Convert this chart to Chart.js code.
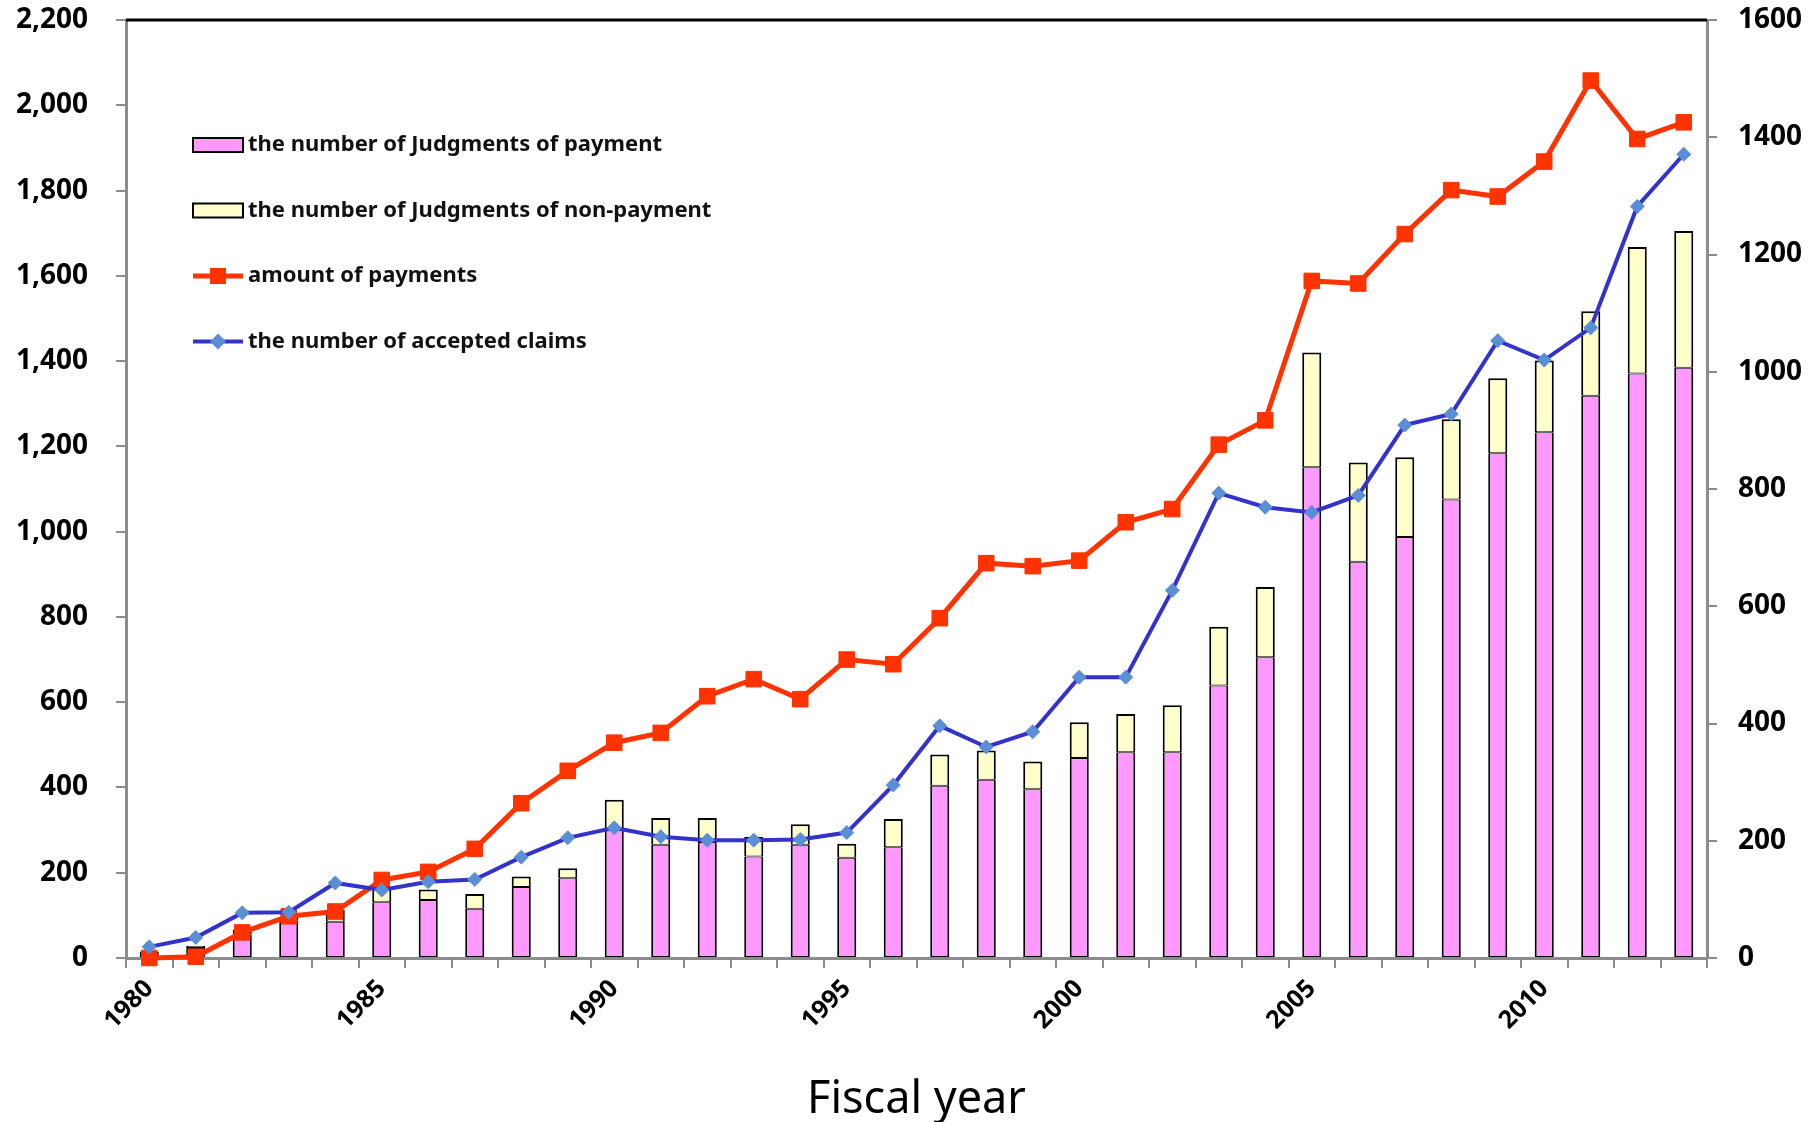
<!DOCTYPE html>
<html>
<head>
<meta charset="utf-8">
<script src="https://cdn.jsdelivr.net/npm/chart.js@4.4.1/dist/chart.umd.min.js"></script>
<style>
  html, body { margin: 0; padding: 0; background: #fff; }
  #wrap { width: 1816px; height: 1122px; }
</style>
</head>
<body>
<div id="wrap"><canvas id="chart" width="1816" height="1122"></canvas></div>
<script>
// fiscal years on the x axis
const years = ['1980','1981','1982','1983','1984','1985','1986','1987','1988','1989',
  '1990','1991','1992','1993','1994','1995','1996','1997','1998','1999',
  '2000','2001','2002','2003','2004','2005','2006','2007','2008','2009',
  '2010','2011','2012','2013'];

// bars (right axis)
const paymentJudgments = [7, 17, 40, 64, 62, 95, 99, 84, 121, 136,
  221, 193, 198, 173, 193, 171, 189, 294, 304, 288,
  341, 351, 351, 465, 513, 837, 676, 718, 782, 861,
  897, 959, 997, 1007];
const nonPaymentJudgments = [4, 4, 8, 6, 20, 24, 18, 25, 18, 17,
  49, 46, 41, 34, 35, 24, 48, 53, 50, 47,
  61, 65, 80, 100, 120, 196, 169, 136, 137, 128,
  122, 144, 216, 233];

// red line (left axis)
const paymentAmount = [0, 3, 60, 98, 109, 183, 202, 256, 363, 439,
  505, 528, 614, 654, 607, 700, 689, 797, 926, 919,
  932, 1022, 1053, 1204, 1261, 1588, 1582, 1698, 1801, 1786,
  1868, 2058, 1921, 1960];

// blue line (right axis)
const acceptedClaims = [19, 35, 77, 78, 128, 116, 130, 134, 172, 205,
  222, 207, 201, 201, 202, 214, 295, 396, 360, 386,
  479, 479, 627, 793, 769, 760, 789, 909, 928, 1053,
  1020, 1075, 1282, 1371];

const leftMax = 2200;
const rightMax = 1600;
const tickStep = 200;
const labelledYears = ['1980', '1985', '1990', '1995', '2000', '2005', '2010'];

const PINK = '#FF99FF';
const CREAM = '#FFFFCC';
const RED = '#FF3300';
const BLUE = '#3333CC';
const DIAMOND = '#5A8FD6';
const AXIS = '#8c8c8c';

// legend drawn inside the plot, top-left
const insideLegend = {
  id: 'insideLegend',
  afterDraw(chart) {
    const { ctx, chartArea } = chart;
    const x = chartArea.left + 67;
    let y = chartArea.top + 125;
    ctx.save();
    ctx.font = 'bold 22px "Noto Sans"';
    ctx.textBaseline = 'middle';
    chart.data.datasets.forEach((ds) => {
      if (ds.type === 'line') {
        ctx.strokeStyle = ds.borderColor;
        ctx.lineWidth = ds.borderWidth;
        ctx.beginPath();
        ctx.moveTo(x, y);
        ctx.lineTo(x + 50, y);
        ctx.stroke();
        ctx.fillStyle = ds.pointBackgroundColor;
        ctx.beginPath();
        if (ds.pointStyle === 'rect') {
          ctx.rect(x + 25 - 8, y - 8, 16, 16);
        } else {
          ctx.moveTo(x + 25, y - 8);
          ctx.lineTo(x + 33, y);
          ctx.lineTo(x + 25, y + 8);
          ctx.lineTo(x + 17, y);
          ctx.closePath();
        }
        ctx.fill();
      } else {
        ctx.fillStyle = ds.backgroundColor;
        ctx.fillRect(x, y - 7, 50, 14);
        ctx.strokeStyle = '#000';
        ctx.lineWidth = 2;
        ctx.strokeRect(x, y - 7, 50, 14);
      }
      ctx.fillStyle = '#111';
      ctx.fillText(ds.label, x + 55, y);
      y += 65.5;
    });
    ctx.restore();
  }
};

// black frame line along the top of the plot
const topLine = {
  id: 'topLine',
  afterDraw(chart) {
    const { ctx, chartArea } = chart;
    ctx.save();
    ctx.strokeStyle = '#000';
    ctx.lineWidth = 3;
    ctx.beginPath();
    ctx.moveTo(chartArea.left, chartArea.top);
    ctx.lineTo(chartArea.right, chartArea.top);
    ctx.stroke();
    ctx.restore();
  }
};

const barBorder = { top: 1, bottom: 1, left: 2, right: 2 };

new Chart(document.getElementById('chart'), {
  type: 'bar',
  data: {
    labels: years,
    datasets: [
      {
        label: 'the number of Judgments of payment',
        data: paymentJudgments,
        yAxisID: 'y1',
        stack: 'judg',
        backgroundColor: PINK,
        borderColor: '#000',
        borderWidth: barBorder,
        borderSkipped: false,
        barPercentage: 0.41,
        categoryPercentage: 1,
        order: 2
      },
      {
        label: 'the number of Judgments of non-payment',
        data: nonPaymentJudgments,
        yAxisID: 'y1',
        stack: 'judg',
        backgroundColor: CREAM,
        borderColor: '#000',
        borderWidth: { top: 2, bottom: 1, left: 2, right: 2 },
        borderSkipped: false,
        barPercentage: 0.41,
        categoryPercentage: 1,
        order: 3
      },
      {
        type: 'line',
        label: 'amount of payments',
        data: paymentAmount,
        yAxisID: 'y',
        borderColor: RED,
        borderWidth: 5,
        pointStyle: 'rect',
        pointRadius: 11,
        pointBackgroundColor: RED,
        pointBorderColor: RED,
        pointBorderWidth: 1,
        tension: 0,
        clip: false,
        order: 1
      },
      {
        type: 'line',
        label: 'the number of accepted claims',
        data: acceptedClaims,
        yAxisID: 'y1',
        borderColor: BLUE,
        borderWidth: 4,
        pointStyle: 'rectRot',
        pointRadius: 7,
        pointBackgroundColor: DIAMOND,
        pointBorderColor: DIAMOND,
        pointBorderWidth: 1,
        tension: 0,
        clip: false,
        order: 0
      }
    ]
  },
  options: {
    responsive: false,
    animation: false,
    layout: { autoPadding: false, padding: { top: 20, left: 0, right: 0, bottom: 0 } },
    plugins: {
      legend: { display: false },
      tooltip: { enabled: false }
    },
    scales: {
      x: {
        stacked: true,
        offset: true,
        grid: {
          offset: true,
          drawOnChartArea: false,
          drawTicks: true,
          tickLength: 10,
          color: AXIS,
          lineWidth: 2
        },
        border: { color: AXIS, width: 3 },
        ticks: {
          autoSkip: false,
          maxRotation: 45,
          minRotation: 45,
          padding: 6,
          color: '#000',
          font: { family: 'Noto Sans', size: 25, weight: 'bold' },
          callback: (v, i) => labelledYears.includes(years[i]) ? years[i] : ''
        },
        title: {
          display: true,
          text: 'Fiscal year',
          color: '#000',
          font: { family: 'Noto Sans', size: 45, lineHeight: 0.95 },
          padding: { top: 0, bottom: 0 }
        },
        afterFit: (scale) => { scale.height = 164; }
      },
      y: {
        position: 'left',
        min: 0,
        max: leftMax,
        grid: {
          drawOnChartArea: false,
          tickLength: 10,
          color: AXIS,
          lineWidth: 2
        },
        border: { color: AXIS, width: 3 },
        ticks: {
          stepSize: tickStep,
          padding: 28,
          color: '#000',
          font: { family: 'Noto Sans', size: 28, weight: 'bold', lineHeight: 1 },
          callback: (v) => v.toLocaleString('en-US')
        },
        afterFit: (scale) => {
          scale.width = 126;
          scale.paddingTop = 0;
          scale.paddingBottom = 0;
        }
      },
      y1: {
        position: 'right',
        stacked: true,
        min: 0,
        max: rightMax,
        grid: {
          drawOnChartArea: false,
          tickLength: 10,
          color: AXIS,
          lineWidth: 2
        },
        border: { color: AXIS, width: 3 },
        ticks: {
          stepSize: tickStep,
          padding: 21,
          color: '#000',
          font: { family: 'Noto Sans', size: 28, weight: 'bold', lineHeight: 1 },
          callback: (v) => String(v)
        },
        afterFit: (scale) => {
          scale.width = 109;
          scale.paddingTop = 0;
          scale.paddingBottom = 0;
        }
      }
    }
  },
  plugins: [insideLegend, topLine]
});
</script>
</body>
</html>
